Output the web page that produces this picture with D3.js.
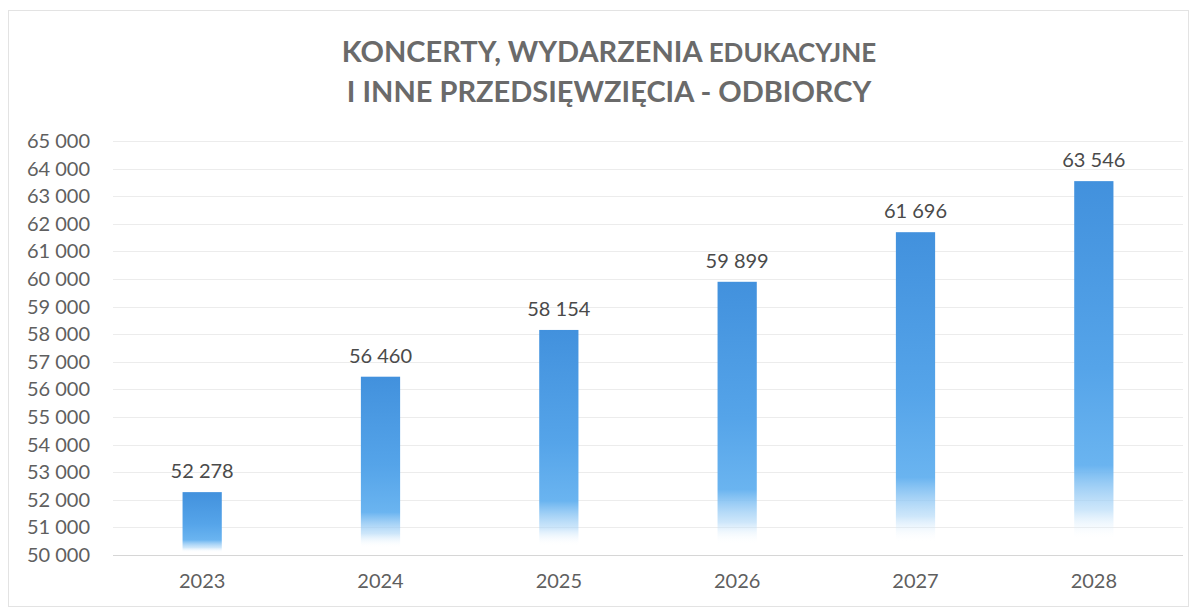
<!DOCTYPE html>
<html><head><meta charset="utf-8">
<script src="https://cdn.jsdelivr.net/npm/d3@7/dist/d3.min.js"></script>
<style>body{margin:0;background:#fff}svg{display:block}</style>
</head><body>
<svg id="c" width="1197" height="612"></svg>
<script>
const categories = ["2023","2024","2025","2026","2027","2028"];
const values = [52278, 56460, 58154, 59899, 61696, 63546];
const yTicks = [50000,51000,52000,53000,54000,55000,56000,57000,58000,59000,60000,61000,62000,63000,64000,65000];
const titleLine1 = ["KONCERTY, WYDARZENIA ", "EDUKACYJNE"];
const titleLine2 = "I INNE PRZEDSIĘWZIĘCIA - ODBIORCY";

const svg = d3.select("#c");
const fmt = v => d3.format(",")(v).replace(/,/g, " ");
const font = "Lato, 'Open Sans', sans-serif";

svg.append("rect").attr("x",8.5).attr("y",10.5).attr("width",1180).attr("height",596)
  .attr("fill","#fff").attr("stroke","#e3e3e3");

const m = {left:113, right:1183, top:141, bottom:555};
const x = d3.scaleBand().domain(categories).range([m.left, m.right]).paddingInner(0.78).paddingOuter(0.39);
const y = d3.scaleLinear().domain([50000, 65000]).range([m.bottom, m.top]);

// gridlines
svg.append("g").selectAll("line").data(yTicks).join("line")
  .attr("x1", m.left).attr("x2", m.right)
  .attr("y1", d => Math.round(y(d))+0.5).attr("y2", d => Math.round(y(d))+0.5)
  .attr("stroke", d => d===50000 ? "#d6d6d6" : "#ececec").attr("stroke-width",1);

// y axis labels
const yAxis = d3.axisLeft(y).tickValues(yTicks).tickFormat(fmt).tickSize(0).tickPadding(0);
const ga = svg.append("g").attr("transform", `translate(90,0)`).call(yAxis);
ga.select(".domain").remove();
ga.selectAll("text").attr("font-family", font).attr("font-size", 20).attr("fill", "#5f5f5f");

// x axis labels
const xAxis = d3.axisBottom(x).tickSize(0).tickPadding(0);
const gx = svg.append("g").attr("transform", `translate(0,574)`).call(xAxis);
gx.select(".domain").remove();
gx.selectAll("text").attr("font-family", font).attr("font-size", 20).attr("fill", "#5f5f5f");

// gradient
const defs = svg.append("defs");
const g = defs.append("linearGradient").attr("id","bg").attr("x1",0).attr("y1",0).attr("x2",0).attr("y2",1);
[[0,"#4291dd",1],[0.5,"#55a4e9",1],[0.76,"#6ab4f0",1],[0.88,"#acd6f7",0.6],[0.96,"#ffffff",0],[1,"#ffffff",0]]
  .forEach(([o,c,op]) => g.append("stop").attr("offset",o).attr("stop-color",c).attr("stop-opacity",op));

svg.append("g").selectAll("rect").data(values).join("rect")
  .attr("x", (d,i) => x(categories[i])).attr("width", x.bandwidth())
  .attr("y", d => y(d)).attr("height", d => y(50000) - y(d))
  .attr("fill", "url(#bg)");

svg.append("g").selectAll("text").data(values).join("text")
  .attr("x", (d,i) => x(categories[i]) + x.bandwidth()/2)
  .attr("y", d => y(d) - 14)
  .attr("text-anchor","middle").attr("font-family", font).attr("font-size", 20).attr("fill","#4a4a4a")
  .text(d => fmt(d));

// title
const t1 = svg.append("text").attr("x", 609).attr("y", 62).attr("text-anchor","middle")
  .attr("font-family", font).attr("font-weight","bold").attr("fill","#6a6a6a");
t1.append("tspan").attr("font-size",29).text(titleLine1[0]);
t1.append("tspan").attr("font-size",26).text(titleLine1[1]);
svg.append("text").attr("x", 609).attr("y", 102).attr("text-anchor","middle")
  .attr("font-family", font).attr("font-weight","bold").attr("font-size",29).attr("fill","#6a6a6a")
  .text(titleLine2);
</script>
</body></html>
